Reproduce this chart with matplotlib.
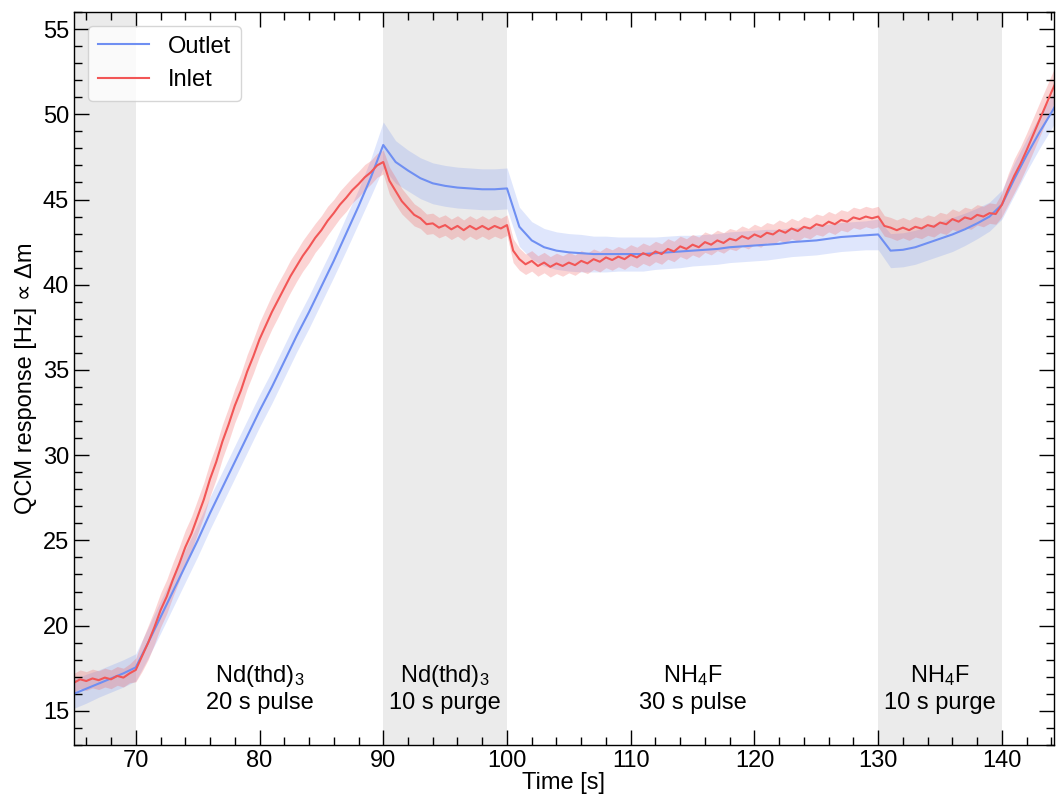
import matplotlib
matplotlib.use("Agg")
import matplotlib.pyplot as plt
import numpy as np
from matplotlib.ticker import MultipleLocator

plt.rcParams["font.family"] = ["Liberation Sans", "DejaVu Sans"]
plt.rcParams["mathtext.default"] = "regular"

# ----- datos -----

# inlet sensor, sampled every 0.5 s from 65 s
t_inlet = np.arange(65.0, 145.0, 0.5)
inlet_mean = [
    16.65, 16.85, 16.75, 16.9, 16.8, 16.95, 16.85, 17.05, 16.95, 17.2,
    17.4, 18.2, 19.0, 19.9, 20.9, 21.7, 22.7, 23.6, 24.6, 25.4,
    26.4, 27.4, 28.6, 29.6, 30.8, 31.8, 32.9, 33.8, 34.9, 35.8,
    36.8, 37.6, 38.4, 39.1, 39.8, 40.5, 41.1, 41.7, 42.2, 42.75,
    43.2, 43.75, 44.2, 44.7, 45.1, 45.55, 45.9, 46.3, 46.6, 47.0,
    47.2, 46.1, 45.5, 44.9, 44.5, 44.1, 43.9, 43.55, 43.6, 43.35,
    43.5, 43.25, 43.45, 43.2, 43.45, 43.25, 43.45, 43.25, 43.45, 43.3,
    43.5, 42.0, 41.5, 41.2, 41.4, 41.1, 41.3, 41.05, 41.25, 41.1,
    41.3, 41.15, 41.4, 41.25, 41.5, 41.35, 41.6, 41.45, 41.65, 41.5,
    41.75, 41.6, 41.85, 41.7, 41.95, 41.8, 42.1, 41.95, 42.25, 42.1,
    42.35, 42.2, 42.5, 42.35, 42.6, 42.45, 42.7, 42.6, 42.85, 42.7,
    42.95, 42.8, 43.05, 42.95, 43.2, 43.05, 43.3, 43.15, 43.4, 43.3,
    43.55, 43.45, 43.7, 43.55, 43.8, 43.7, 43.95, 43.85, 44.0, 43.9,
    44.0, 43.45, 43.35, 43.2, 43.35, 43.2, 43.4, 43.3, 43.5, 43.4,
    43.65, 43.55, 43.85, 43.7, 43.95, 43.85, 44.1, 44.0, 44.2, 44.15,
    44.7, 45.6, 46.4, 47.1, 47.9, 48.75, 49.6, 50.45, 51.3, 52.1,
]
inlet_sd = (
    [0.55] * 10
    + [0.7, 0.9] + [1.0] * 18
    + [1.0, 1.0, 1.0, 1.0, 0.95, 0.95, 0.9, 0.9, 0.9, 0.85,
       0.85, 0.85, 0.8, 0.8, 0.8, 0.75, 0.75, 0.75, 0.7, 0.7]
    + [0.7, 0.8, 0.8, 0.75, 0.7, 0.65] + [0.6] * 14
    + [0.6, 0.7, 0.65] + [0.6] * 17
    + [0.6] * 60
    + [0.7, 0.9] + [1.0] * 8
)

# outlet sensor, sampled every 1 s from 65 s
t_outlet = np.arange(65.0, 146.0, 1.0)
outlet_mean = [
    16.0, 16.3, 16.6, 16.9, 17.2,
    17.55, 19.0, 20.5, 22.0, 23.5, 25.0, 26.6, 28.1, 29.6, 31.1,
    32.6, 34.0, 35.5, 37.0, 38.4, 39.9, 41.4, 43.0, 44.6, 46.3,
    48.2, 47.2, 46.7, 46.25, 45.95, 45.8, 45.7, 45.65, 45.6, 45.6,
    45.65, 43.4, 42.6, 42.2, 42.0, 41.9, 41.85, 41.8, 41.8, 41.8,
    41.8, 41.8, 41.85, 41.9, 41.95, 42.0, 42.05, 42.1, 42.2, 42.25,
    42.3, 42.35, 42.4, 42.5, 42.55, 42.6, 42.7, 42.8, 42.85, 42.9,
    42.95, 42.0, 42.05, 42.2, 42.45, 42.7, 42.95, 43.25, 43.6, 44.0,
    44.7, 46.2, 47.6, 48.9, 50.1, 51.4,
]
outlet_sd = [
    0.85, 0.85, 0.8, 0.8, 0.8,
    0.8, 0.9, 0.95, 0.95, 0.95, 0.95, 0.95, 0.95, 0.95, 0.95,
    0.95, 0.95, 0.95, 0.95, 0.95, 0.95, 0.95, 1.0, 1.0, 1.1,
    1.35, 1.25, 1.2, 1.2, 1.2, 1.2, 1.2, 1.2, 1.2, 1.2,
    1.2, 1.15, 1.1, 1.1, 1.1, 1.1, 1.1, 1.05, 1.05, 1.0,
    1.0, 1.0, 0.95, 0.95, 0.95, 0.9, 0.9, 0.9, 0.9, 0.9,
    0.9, 0.9, 0.85, 0.85, 0.85, 0.85, 0.85, 0.85, 0.85, 0.85,
    0.9, 1.0, 1.0, 1.0, 1.0, 1.0, 1.0, 0.95, 0.9, 0.85,
    0.85, 0.95, 0.95, 0.95, 0.95, 0.95,
]

# purge windows (shaded) and step labels
purges = [(65, 70), (90, 100), (130, 140)]
step_centers = [80, 95, 115, 135]
step_labels = [
    "Nd(thd)$_3$\n20 s pulse",
    "Nd(thd)$_3$\n10 s purge",
    "NH$_4$F\n30 s pulse",
    "NH$_4$F\n10 s purge",
]

BLUE = "#6f8ff2"
RED = "#f25656"
FS = 17

# ----- grafico -----

fig = plt.figure(figsize=(10.56, 8.01), dpi=100)
ax = fig.add_axes([0.070, 0.070, 0.928, 0.915])

for x0, x1 in purges:
    ax.axvspan(x0, x1, color="#ebebeb", lw=0, zorder=0)

om = np.array(outlet_mean)
osd = np.array(outlet_sd)
im = np.array(inlet_mean)
isd = np.array(inlet_sd)

ax.fill_between(t_outlet, om - osd, om + osd, color=BLUE, alpha=0.22, lw=0, zorder=1)
ax.fill_between(t_inlet, im - isd, im + isd, color=RED, alpha=0.25, lw=0, zorder=1)
ax.plot(t_outlet, om, color=BLUE, lw=1.5, label="Outlet", zorder=2)
ax.plot(t_inlet, im, color=RED, lw=1.5, label="Inlet", zorder=2)

for xc, txt in zip(step_centers, step_labels):
    ax.text(xc, 16.3, txt, ha="center", va="center", fontsize=FS, linespacing=1.2)

ax.set_xlim(65, 144.2)
ax.set_ylim(13, 56)
ax.xaxis.set_major_locator(MultipleLocator(10))
ax.xaxis.set_minor_locator(MultipleLocator(2))
ax.yaxis.set_major_locator(MultipleLocator(5))
ax.yaxis.set_minor_locator(MultipleLocator(1))
ax.tick_params(which="both", direction="in", top=True, right=True, width=1.0,
               labelsize=FS)
ax.tick_params(which="major", length=11)
ax.tick_params(which="minor", length=6)
for sp in ax.spines.values():
    sp.set_linewidth(1.0)

ax.set_xlabel("Time [s]", fontsize=FS, labelpad=0)
ax.set_ylabel("QCM response [Hz] \u221d \u0394m", fontsize=FS, labelpad=4)

ax.legend(loc="upper left", fontsize=FS, frameon=True, framealpha=0.8,
          borderaxespad=0.6, handlelength=2.2)

fig.savefig("out.png", dpi=100)
